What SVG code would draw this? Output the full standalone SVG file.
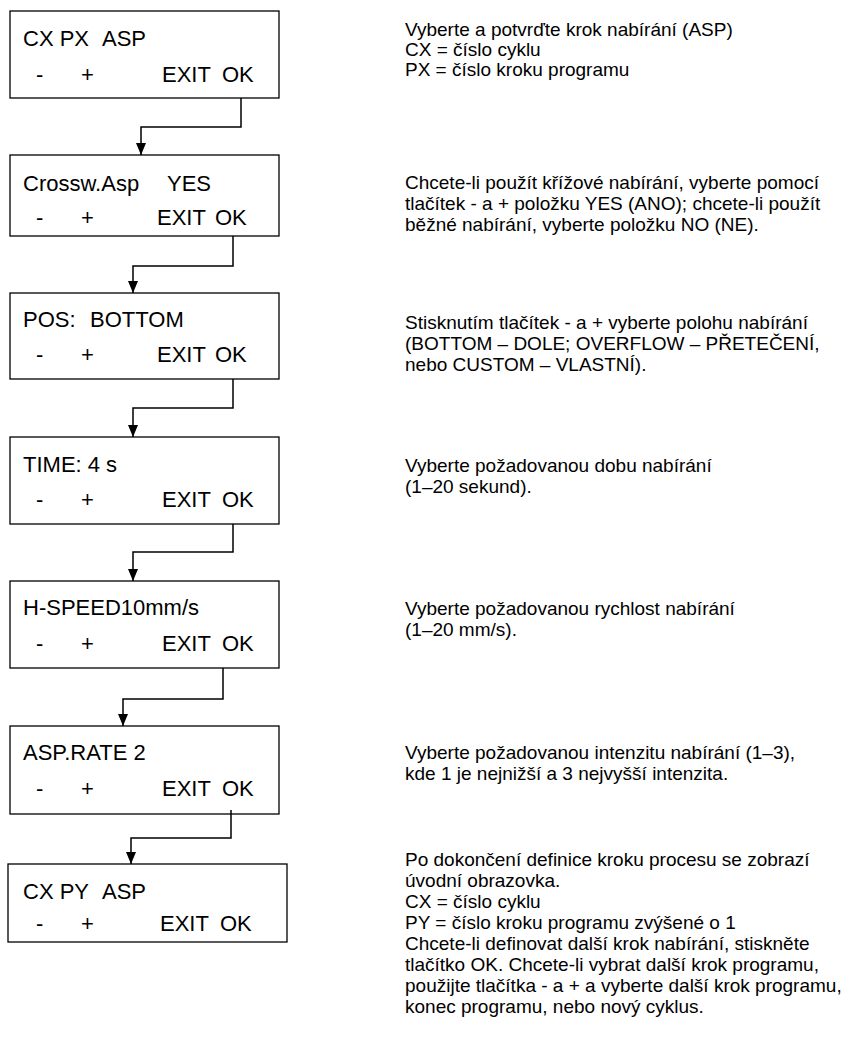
<svg xmlns="http://www.w3.org/2000/svg" width="846" height="1047" viewBox="0 0 846 1047">
  <style>
    .box { fill: #ffffff; stroke: #000000; stroke-width: 1.3; }
    .lcd { font-family: "Liberation Sans", Arial, sans-serif; font-size: 22px; fill: #000000; }
    .desc { font-family: "Liberation Sans", Arial, sans-serif; font-size: 19px; fill: #000000; }
    .wire { fill: none; stroke: #000000; stroke-width: 1.5; }
  </style>
  <defs>
    <marker id="arrow" viewBox="0 0 12 10" refX="12" refY="5" markerWidth="12" markerHeight="10" markerUnits="userSpaceOnUse" orient="auto">
      <path d="M0,0 L12,5 L0,10 Z" fill="#000000"/>
    </marker>
  </defs>
  <rect width="846" height="1047" fill="#ffffff"/>

  <!-- display screens -->
  <g id="screen-cx-px">
    <rect class="box" x="10" y="11" width="269" height="87"/>
    <text class="lcd" x="23" y="46">CX PX</text>
    <text class="lcd" x="102" y="46">ASP</text>
    <text class="lcd" x="36" y="82">-</text>
    <text class="lcd" x="81" y="82">+</text>
    <text class="lcd" x="162" y="82">EXIT</text>
    <text class="lcd" x="222" y="82">OK</text>
  </g>
  <g id="screen-crossw">
    <rect class="box" x="10" y="155" width="269" height="81"/>
    <text class="lcd" x="23" y="191">Crossw.Asp</text>
    <text class="lcd" x="167" y="191">YES</text>
    <text class="lcd" x="36" y="225">-</text>
    <text class="lcd" x="81" y="225">+</text>
    <text class="lcd" x="157" y="225">EXIT</text>
    <text class="lcd" x="215" y="225">OK</text>
  </g>
  <g id="screen-pos">
    <rect class="box" x="10" y="293" width="269" height="86"/>
    <text class="lcd" x="23" y="327">POS:</text>
    <text class="lcd" x="90" y="327">BOTTOM</text>
    <text class="lcd" x="36" y="362">-</text>
    <text class="lcd" x="81" y="362">+</text>
    <text class="lcd" x="157" y="362">EXIT</text>
    <text class="lcd" x="215" y="362">OK</text>
  </g>
  <g id="screen-time">
    <rect class="box" x="10" y="437" width="269" height="87"/>
    <text class="lcd" x="23" y="472">TIME: 4 s</text>
    <text class="lcd" x="36" y="507">-</text>
    <text class="lcd" x="81" y="507">+</text>
    <text class="lcd" x="162" y="507">EXIT</text>
    <text class="lcd" x="222" y="507">OK</text>
  </g>
  <g id="screen-hspeed">
    <rect class="box" x="10" y="581" width="269" height="87"/>
    <text class="lcd" x="23" y="615">H-SPEED10mm/s</text>
    <text class="lcd" x="36" y="651">-</text>
    <text class="lcd" x="81" y="651">+</text>
    <text class="lcd" x="162" y="651">EXIT</text>
    <text class="lcd" x="222" y="651">OK</text>
  </g>
  <g id="screen-rate">
    <rect class="box" x="10" y="726" width="269" height="88"/>
    <text class="lcd" x="23" y="760">ASP.RATE 2</text>
    <text class="lcd" x="36" y="796">-</text>
    <text class="lcd" x="81" y="796">+</text>
    <text class="lcd" x="162" y="796">EXIT</text>
    <text class="lcd" x="222" y="796">OK</text>
  </g>
  <g id="screen-cx-py">
    <rect class="box" x="8" y="864" width="279" height="78"/>
    <text class="lcd" x="23" y="899">CX PY</text>
    <text class="lcd" x="102" y="899">ASP</text>
    <text class="lcd" x="36" y="931">-</text>
    <text class="lcd" x="81" y="931">+</text>
    <text class="lcd" x="160" y="931">EXIT</text>
    <text class="lcd" x="220" y="931">OK</text>
  </g>

  <!-- OK transitions between screens -->
  <g id="connectors">
    <path class="wire" d="M241,98 V127 H141 V155" marker-end="url(#arrow)"/>
    <path class="wire" d="M233,236 V266 H133 V293" marker-end="url(#arrow)"/>
    <path class="wire" d="M233,379 V408 H133 V437" marker-end="url(#arrow)"/>
    <path class="wire" d="M233,524 V552 H133 V581" marker-end="url(#arrow)"/>
    <path class="wire" d="M223,668 V699 H123 V726" marker-end="url(#arrow)"/>
    <path class="wire" d="M231,810 V838 H131 V864" marker-end="url(#arrow)"/>
  </g>

  <!-- explanations -->
  <g id="desc-cx-px" class="desc">
    <text x="405" y="36">Vyberte a potvrďte krok nabírání (ASP)</text>
    <text x="405" y="56">CX = číslo cyklu</text>
    <text x="405" y="76">PX = číslo kroku programu</text>
  </g>
  <g id="desc-crossw" class="desc">
    <text x="405" y="189">Chcete-li použít křížové nabírání, vyberte pomocí</text>
    <text x="405" y="210">tlačítek - a + položku YES (ANO); chcete-li použít</text>
    <text x="405" y="231">běžné nabírání, vyberte položku NO (NE).</text>
  </g>
  <g id="desc-pos" class="desc">
    <text x="405" y="329">Stisknutím tlačítek - a + vyberte polohu nabírání</text>
    <text x="405" y="350">(BOTTOM – DOLE; OVERFLOW – PŘETEČENÍ,</text>
    <text x="405" y="371">nebo CUSTOM – VLASTNÍ).</text>
  </g>
  <g id="desc-time" class="desc">
    <text x="405" y="472">Vyberte požadovanou dobu nabírání</text>
    <text x="405" y="493">(1–20 sekund).</text>
  </g>
  <g id="desc-hspeed" class="desc">
    <text x="405" y="615">Vyberte požadovanou rychlost nabírání</text>
    <text x="405" y="636">(1–20 mm/s).</text>
  </g>
  <g id="desc-rate" class="desc">
    <text x="405" y="759">Vyberte požadovanou intenzitu nabírání (1–3),</text>
    <text x="405" y="780">kde 1 je nejnižší a 3 nejvyšší intenzita.</text>
  </g>
  <g id="desc-cx-py" class="desc">
    <text x="405" y="866">Po dokončení definice kroku procesu se zobrazí</text>
    <text x="405" y="887">úvodní obrazovka.</text>
    <text x="405" y="908">CX = číslo cyklu</text>
    <text x="405" y="929">PY = číslo kroku programu zvýšené o 1</text>
    <text x="405" y="950">Chcete-li definovat další krok nabírání, stiskněte</text>
    <text x="405" y="971">tlačítko OK. Chcete-li vybrat další krok programu,</text>
    <text x="405" y="992">použijte tlačítka - a + a vyberte další krok programu,</text>
    <text x="405" y="1013">konec programu, nebo nový cyklus.</text>
  </g>
</svg>
